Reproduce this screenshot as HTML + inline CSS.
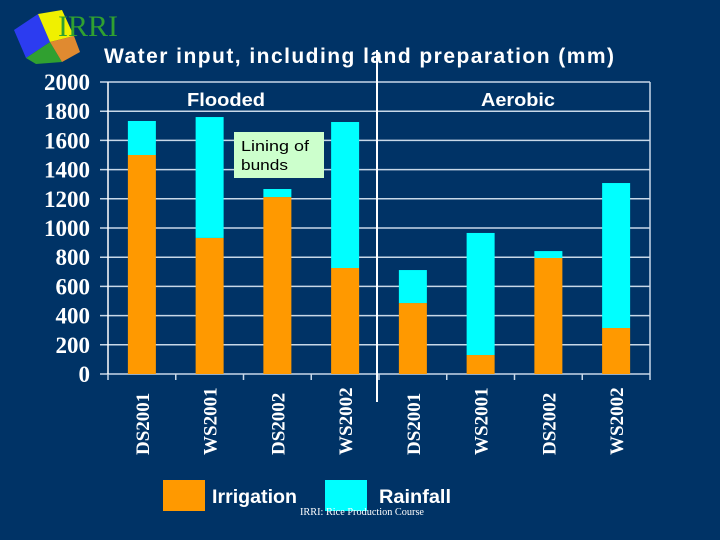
<!DOCTYPE html>
<html><head><meta charset="utf-8"><style>
body{margin:0;background:#003366;}
#c{position:relative;width:720px;height:540px;background:#003366;overflow:hidden;font-family:"Liberation Sans",sans-serif;}
</style></head><body>
<div id="c">
<svg id="s" width="720" height="540">
<g>
<polygon points="14,30 38,14 50,42 26,58" fill="#2c3cf0"/>
<polygon points="38,14 62,10 74,36 50,42" fill="#f0f000"/>
<polygon points="26,58 50,42 62,62 36,64" fill="#30a030"/>
<polygon points="50,42 74,36 80,52 62,62" fill="#e08a30"/>
<text x="58" y="36" font-family="Liberation Serif" font-size="30" fill="#30a030">IRRI</text>
</g>
<text x="104" y="63" font-size="21" font-weight="bold" fill="#fff" textLength="510" lengthAdjust="spacing">Water input, including land preparation (mm)</text>
</svg>
</div>
<script>
const categories=["DS2001","WS2001","DS2002","WS2002","DS2001","WS2001","DS2002","WS2002"];
const irrigation=[1500,932,1212,726,486,130,795,315];
const rainfall=[233,828,55,1000,226,836,47,993];
const yTicks=[0,200,400,600,800,1000,1200,1400,1600,1800,2000];
const s=document.getElementById('s');
const NS='http://www.w3.org/2000/svg';
const X0=108,X1=650,Y0=374,Y1=82,YMAX=2000;
const y=v=>Y0-(v/YMAX)*(Y0-Y1);
const bw=(X1-X0)/categories.length;
function mk(t,a){const e=document.createElementNS(NS,t);for(const k in a)e.setAttribute(k,a[k]);s.appendChild(e);return e;}
yTicks.forEach(t=>{
 const l=mk('line',{x1:100,x2:X1,y1:y(t),y2:y(t),stroke:'#c8d8e8','stroke-width':1.5});
 
 
 const tx=mk('text',{x:90,y:y(t)+8,'text-anchor':'end','font-family':'Liberation Serif','font-weight':'bold','font-size':23,fill:'#fff'});
 tx.textContent=t;
 
 
});
const ax=mk('line',{x1:X0,x2:X0,y1:Y1,y2:Y0,stroke:'#fff','stroke-width':1.5});


const rx=mk('line',{x1:X1,x2:X1,y1:Y1,y2:Y0,stroke:'#c8d8e8','stroke-width':1.5});


for(let i=0;i<=categories.length;i++){
 const tk=mk('line',{x1:X0+i*bw,x2:X0+i*bw,y1:Y0,y2:Y0+6,stroke:'#c8d8e8','stroke-width':1.5});
 
 
}
categories.forEach((c,i)=>{
 const cx=X0+bw*(i+0.5);
 const r1=mk('rect',{x:cx-14,y:y(irrigation[i]),width:28,height:Y0-y(irrigation[i]),fill:'#ff9900'});
 
 
 const tot=irrigation[i]+rainfall[i];
 const r2=mk('rect',{x:cx-14,y:y(tot),width:28,height:y(irrigation[i])-y(tot),fill:'#00ffff'});
 
 
 const tx=mk('text',{x:0,y:0,transform:`translate(${cx+7},455) rotate(-90)`,'font-family':'Liberation Serif','font-weight':'bold','font-size':19,fill:'#fff'});
 tx.textContent=c;
 
 
});
const dv=mk('line',{x1:377,x2:377,y1:50,y2:402,stroke:'#fff','stroke-width':2});


function txt(str,x,yy,sz,name,len){const t=mk('text',{x:x,y:yy,'font-size':sz,'font-weight':'bold',fill:'#fff',textLength:len,lengthAdjust:'spacingAndGlyphs'});t.textContent=str;return t;}
txt('Flooded',187,106,18,'flooded-label',78);
txt('Aerobic',481,106,18,'aerobic-label',74);
const bx=mk('rect',{x:234,y:132,width:90,height:46,fill:'#ccffcc'});


const a1=mk('text',{x:241,y:151,'font-size':15,fill:'#000',textLength:68,lengthAdjust:'spacingAndGlyphs'});a1.textContent='Lining of';


const a2=mk('text',{x:241,y:170,'font-size':15,fill:'#000',textLength:47,lengthAdjust:'spacingAndGlyphs'});a2.textContent='bunds';


const l1=mk('rect',{x:163,y:480,width:42,height:31,fill:'#ff9900'});


txt('Irrigation',212,503,19,'legend-irrigation-label',85);
const l2=mk('rect',{x:325,y:480,width:42,height:31,fill:'#00ffff'});


txt('Rainfall',379,503,19,'legend-rainfall-label',72);
const ft=mk('text',{x:300,y:515,'font-family':'Liberation Serif','font-size':10,fill:'#fff',textLength:124,lengthAdjust:'spacingAndGlyphs'});
ft.textContent='IRRI: Rice Production Course';


</script>
</body></html>
